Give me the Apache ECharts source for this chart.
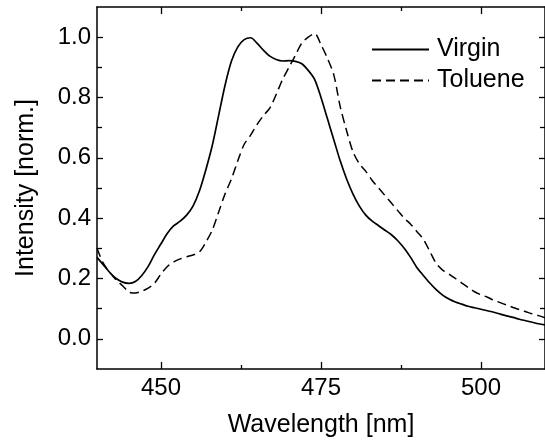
<!DOCTYPE html>
<html><head><meta charset="utf-8">
<script src="https://cdn.jsdelivr.net/npm/echarts@6/dist/echarts.min.js"></script>
<style>html,body{margin:0;padding:0;background:#fff}#c{width:545px;height:443px}</style>
</head><body><div id="c"></div>
<script>
const wavelength = [440,441,442,443,444,445,446,447,448,449,450,451,452,453,454,455,456,457,458,459,460,461,462,463,464,465,466,467,468,469,470,471,472,473,474,475,476,477,478,479,480,481,482,483,484,485,486,487,488,489,490,491,492,493,494,495,496,497,498,499,500,501,502,503,504,505,506,507,508,509,510];
const virgin = [0.27,0.245,0.22,0.2,0.188,0.184,0.19,0.21,0.24,0.28,0.315,0.35,0.375,0.39,0.41,0.44,0.49,0.56,0.64,0.74,0.84,0.92,0.968,0.992,0.998,0.98,0.957,0.937,0.926,0.921,0.922,0.92,0.912,0.89,0.86,0.8,0.73,0.66,0.59,0.53,0.48,0.44,0.41,0.39,0.375,0.36,0.345,0.325,0.3,0.27,0.236,0.21,0.185,0.163,0.145,0.132,0.122,0.115,0.108,0.103,0.098,0.093,0.088,0.082,0.076,0.071,0.065,0.06,0.055,0.05,0.046];
const toluene = [0.3,0.25,0.22,0.195,0.176,0.155,0.152,0.158,0.168,0.185,0.215,0.24,0.255,0.265,0.272,0.278,0.288,0.32,0.36,0.42,0.48,0.53,0.59,0.645,0.675,0.71,0.74,0.765,0.81,0.86,0.9,0.94,0.98,1.0,1.012,0.975,0.93,0.875,0.77,0.69,0.62,0.58,0.555,0.525,0.5,0.475,0.45,0.425,0.4,0.38,0.355,0.33,0.29,0.25,0.228,0.215,0.2,0.185,0.17,0.156,0.146,0.138,0.128,0.12,0.112,0.104,0.097,0.09,0.083,0.077,0.07];
const xMajorTicks = [450,475,500];
const xMinorTicks = [462.5,487.5];
const yMajorTicks = [0,0.2,0.4,0.6,0.8,1.0];
const yMinorTicks = [0.1,0.3,0.5,0.7,0.9];

const FONT = 'Liberation Sans, Arial, sans-serif';
const chart = echarts.init(document.getElementById('c'));
function xa(pos, ticks, len, labels, showLine, extra) {
  return Object.assign({
    type:'value', position:pos, min:440, max:510, interval:5,
    axisLine:{show:showLine, onZero:false, lineStyle:{color:'#000', width:1.5}},
    axisTick:{show:true, inside:true, length:len, customValues:ticks, lineStyle:{color:'#000', width:1.3}},
    axisLabel:{show:labels, customValues:ticks, color:'#000', fontSize:24, fontFamily:FONT, margin:7},
    splitLine:{show:false}
  }, extra||{});
}
function ya(pos, ticks, len, labels, showLine, extra) {
  return Object.assign({
    type:'value', position:pos, min:-0.1, max:1.1, interval:0.1,
    axisLine:{show:showLine, onZero:false, lineStyle:{color:'#000', width:1.5}},
    axisTick:{show:true, inside:true, length:len, customValues:ticks, lineStyle:{color:'#000', width:1.3}},
    axisLabel:{show:labels, customValues:ticks, color:'#000', fontSize:24, fontFamily:FONT, margin:6, formatter:v=>v.toFixed(1)},
    splitLine:{show:false}
  }, extra||{});
}
chart.setOption({
  animation:false,
  backgroundColor:'#fff',
  grid:{left:97, top:7, right:-4, bottom:73},
  legend:{
    orient:'vertical', left:366, top:32, itemWidth:57, itemHeight:14, itemGap:6,
    itemStyle:{color:'rgba(0,0,0,0)', borderColor:'rgba(0,0,0,0)', borderWidth:0},
    textStyle:{fontSize:25, fontFamily:FONT, color:'#000', padding:[0,0,0,3]},
    data:['Virgin','Toluene']
  },
  xAxis:[
    xa('bottom', xMajorTicks, 7, true, true, {name:'Wavelength [nm]', nameLocation:'middle', nameGap:44, nameTextStyle:{fontSize:25, fontFamily:FONT, color:'#000'}}),
    xa('bottom', xMinorTicks, 4, false, false),
    xa('top', xMajorTicks, 7, false, true),
    xa('top', xMinorTicks, 4, false, false)
  ],
  yAxis:[
    ya('left', yMajorTicks, 6, true, true, {name:'Intensity [norm.]', nameLocation:'middle', nameGap:58, nameTextStyle:{fontSize:25, fontFamily:FONT, color:'#000'}}),
    ya('left', yMinorTicks, 5, false, false),
    ya('right', yMajorTicks, 6, false, true),
    ya('right', yMinorTicks, 5, false, false)
  ],
  series:[
    {name:'Virgin', type:'line', xAxisIndex:0, yAxisIndex:0, symbol:'none', smooth:0.3,
     lineStyle:{color:'#000', width:1.7, type:'solid'}, itemStyle:{color:'#000'},
     data: wavelength.map((w,i)=>[w, virgin[i]])},
    {name:'Toluene', type:'line', xAxisIndex:0, yAxisIndex:0, symbol:'none', smooth:0.3,
     lineStyle:{color:'#000', width:1.5, type:[9,5]}, itemStyle:{color:'#000'},
     data: wavelength.map((w,i)=>[w, toluene[i]])}
  ]
});
</script></body></html>
